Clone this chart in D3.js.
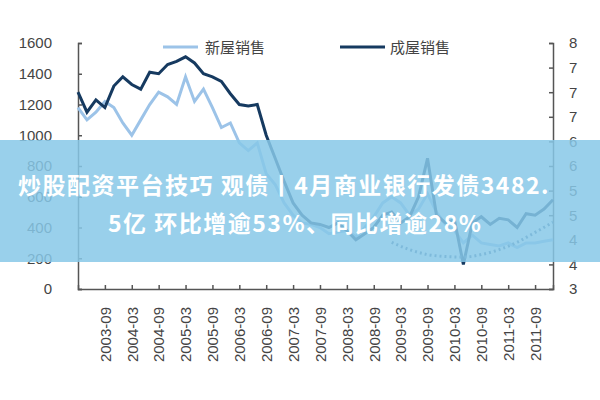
<!DOCTYPE html>
<html><head><meta charset="utf-8">
<script src="https://cdn.jsdelivr.net/npm/d3@7"></script>
<style>body{margin:0;background:#fff}</style>
</head><body><div id="chart"></div>
<script>
// months counted from 2003-03, every 2 months
const months = d3.range(0, 107, 2);
const existing = [1280,1150,1230,1180,1320,1380,1330,1300,1410,1400,1460,1480,1510,1470,1400,1380,1350,1270,1200,1190,1200,1000,850,700,560,480,430,420,400,430,380,320,360,400,480,500,430,470,600,850,480,430,450,160,430,470,420,460,450,400,490,480,520,580];
const newHomes = [1180,1100,1150,1220,1180,1080,1000,1100,1200,1280,1250,1200,1380,1220,1300,1180,1050,1080,950,900,950,750,680,560,480,430,420,400,360,370,380,340,400,470,560,600,560,480,520,620,500,420,380,300,350,300,290,280,300,270,300,300,310,320];
const dotMonths = [70,74,78,82,86,90,94,98,102,106];
const dotValues = [3.95,3.8,3.7,3.66,3.65,3.7,3.8,3.95,4.15,4.36];
const xLabels = ["2003-09","2004-03","2004-09","2005-03","2005-09","2006-03","2006-09","2007-03","2007-09","2008-03","2008-09","2009-03","2009-09","2010-03","2010-09","2011-03","2011-09"];
const leftTicks = [0,200,400,600,800,1000,1200,1400,1600];
const rightTicks = [3,3.5,4,4.5,5,5.5,6,6.5,7,7.5,8];
const rightLabels = ["3","4","4","5","5","6","6","7","7","7","8"];

const width = 600, height = 400;
const svg = d3.select("#chart").append("svg").attr("width", width).attr("height", height)
  .style("font-family", "Liberation Sans, Arial, sans-serif");

const x = d3.scaleLinear().domain([0, 106]).range([78, 553]);
const y = d3.scaleLinear().domain([0, 1600]).range([289, 43]);
const y2 = d3.scaleLinear().domain([3, 8]).range([289, 43]);

// axes
const gl = svg.append("g").attr("transform", "translate(78,0)")
  .call(d3.axisLeft(y).tickValues(leftTicks).tickFormat(d3.format("d")).tickSize(-4));
const gr = svg.append("g").attr("transform", "translate(553,0)")
  .call(d3.axisRight(y2).tickValues(rightTicks).tickFormat((d, i) => rightLabels[i]).tickSize(-4).tickPadding(16));
const tickMonths = xLabels.map((d, i) => 6 + i * 6);
const gb = svg.append("g").attr("transform", "translate(0,289)")
  .call(d3.axisBottom(x).tickValues(tickMonths).tickFormat((d, i) => xLabels[i]).tickSize(-4));
gb.selectAll("text").attr("transform", "rotate(-90)").attr("dy", "0.35em")
  .attr("x", -18).attr("y", 0).style("text-anchor", "end");
[gl, gr, gb].forEach(g => {
  g.selectAll("path,line").attr("stroke", "#555").attr("stroke-width", 1.5);
  g.selectAll("text").attr("fill", "#444").attr("font-size", 15);
});
gl.selectAll("text").style("text-anchor", "end").attr("x", -26);

const line = d3.line().x((d, i) => x(months[i])).y(d => y(d));
svg.append("path").datum(newHomes).attr("d", line).attr("fill", "none")
  .attr("stroke", "#9cc3e8").attr("stroke-width", 3);
svg.append("path").datum(existing).attr("d", line).attr("fill", "none")
  .attr("stroke", "#163a60").attr("stroke-width", 3);
svg.append("path").datum(dotValues)
  .attr("d", d3.line().x((d, i) => x(dotMonths[i])).y(d => y2(d)).curve(d3.curveMonotoneX))
  .attr("fill", "none").attr("stroke", "#4a6f94").attr("stroke-width", 3).attr("stroke-dasharray", "2,3");

// legend
svg.append("line").attr("x1", 163).attr("x2", 198).attr("y1", 47).attr("y2", 47).attr("stroke", "#9cc3e8").attr("stroke-width", 3);
svg.append("text").attr("x", 205).attr("y", 53).attr("font-size", 15).attr("fill", "#444")
  .style("font-family", "Noto Sans CJK SC").text("新屋销售");
svg.append("line").attr("x1", 340).attr("x2", 385).attr("y1", 47).attr("y2", 47).attr("stroke", "#163a60").attr("stroke-width", 3);
svg.append("text").attr("x", 390).attr("y", 53).attr("font-size", 15).attr("fill", "#444")
  .style("font-family", "Noto Sans CJK SC").text("成屋销售");

// banner
svg.append("rect").attr("x", 0).attr("y", 140).attr("width", width).attr("height", 122)
  .attr("fill", "rgb(135,200,232)").attr("opacity", 0.85);
const bt = svg.append("text").attr("fill", "#fff").attr("font-size", 23).attr("font-weight", "bold")
  .style("font-family", "Noto Sans CJK SC").style("letter-spacing", "1.5px");
bt.append("tspan").attr("x", 18).attr("y", 194).text("炒股配资平台技巧 观债丨4月商业银行发债3482.");
bt.append("tspan").attr("x", 108).attr("y", 232).text("5亿 环比增逾53%、同比增逾28%");
</script></body></html>
